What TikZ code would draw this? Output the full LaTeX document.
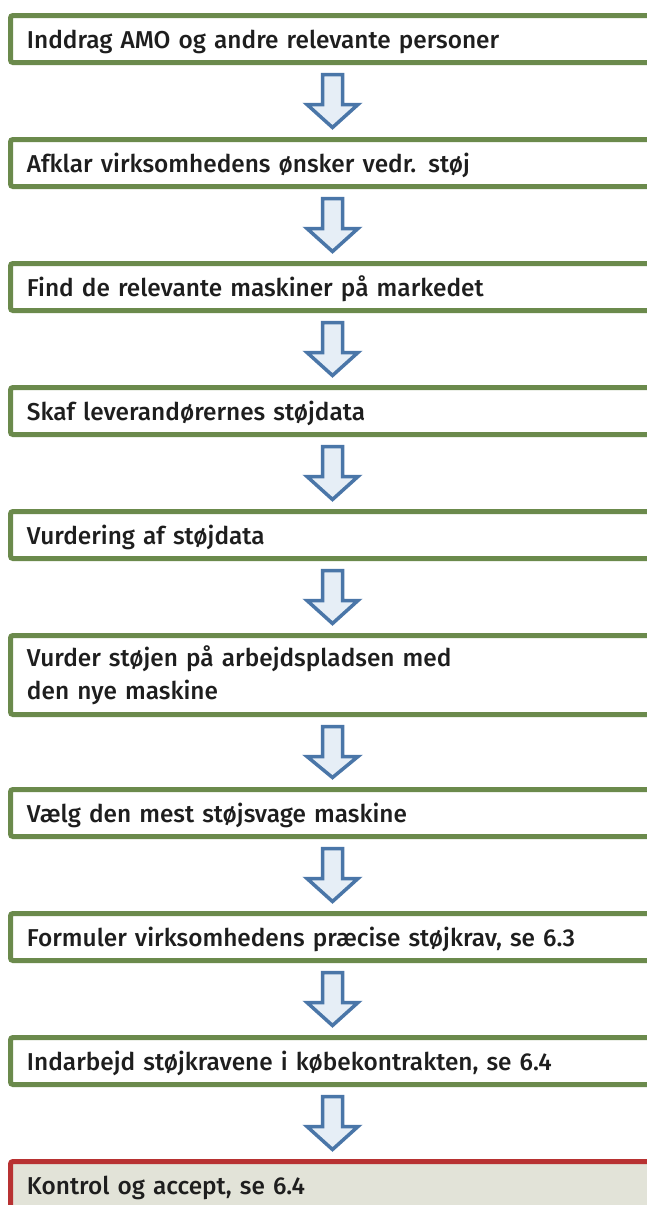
\documentclass[tikz,border=0pt]{standalone}
\usepackage{fontspec}
\setmainfont{Fira Sans}[UprightFont=* Medium]
\usetikzlibrary{calc}
\definecolor{gborder}{RGB}{107,138,76}
\definecolor{rborder}{RGB}{184,50,50}
\definecolor{afill}{RGB}{230,238,246}
\definecolor{aline}{RGB}{74,118,168}
\definecolor{kfill}{RGB}{226,227,216}
\definecolor{txt}{RGB}{30,30,30}
\tikzset{
  box/.style={draw=gborder, fill=white, line width=5pt, rounded corners=2.5pt,
    anchor=north west, minimum width=700pt, text width=667pt, inner xsep=16.5pt,
    inner ysep=0pt, outer sep=0pt, align=left, text=txt,
    font=\fontsize{24.4}{33}\selectfont},
  onebox/.style={box, minimum height=47pt, text height=19pt, text depth=1pt},
  twobox/.style={box, minimum height=79pt},
  endbox/.style={onebox, draw=rborder, fill=kfill},
  barrow/.style={draw=aline, fill=afill, line width=3.5pt, line join=miter},
}
\newcommand\blockarrow[2]{%
  \draw[barrow] let \p1=(#1.south), \p2=(#2.north) in
    ({322.5pt},{\y1-12pt}) -- ({342.5pt},{\y1-12pt}) -- ({342.5pt},{\y1-42pt})
    -- ({358pt},{\y1-42pt}) -- ({332.5pt},{\y2+12pt}) -- ({307pt},{\y1-42pt})
    -- ({322.5pt},{\y1-42pt}) -- cycle;}
\begin{document}
\begin{tikzpicture}[x=1pt,y=-1pt]
\useasboundingbox (0,0) rectangle (647,1205);
\clip (0,0) rectangle (647,1205);
\fill[white] (0,0) rectangle (647,1205);
\node[onebox] (b1) at (10.5,15.5) {Inddrag AMO og andre relevante personer};
\node[onebox] (b2) at (10.5,139.5) {Afklar virksomhedens ønsker vedr. støj};
\node[onebox] (b3) at (10.5,263.5) {Find de relevante maskiner på markedet};
\node[onebox] (b4) at (10.5,387.5) {Skaf leverandørernes støjdata};
\node[onebox] (b5) at (10.5,511.5) {Vurdering af støjdata};
\node[twobox] (b6) at (10.5,635.5) {Vurder støjen på arbejdspladsen med\\den nye maskine};
\node[onebox] (b7) at (10.5,789.5) {Vælg den mest støjsvage maskine};
\node[onebox] (b8) at (10.5,913.5) {Formuler virksomhedens præcise støjkrav, se 6.3};
\node[onebox] (b9) at (10.5,1037.5) {Indarbejd støjkravene i købekontrakten, se 6.4};
\node[endbox] (b10) at (10.5,1161.5) {Kontrol og accept, se 6.4};
\blockarrow{b1}{b2}
\blockarrow{b2}{b3}
\blockarrow{b3}{b4}
\blockarrow{b4}{b5}
\blockarrow{b5}{b6}
\blockarrow{b6}{b7}
\blockarrow{b7}{b8}
\blockarrow{b8}{b9}
\blockarrow{b9}{b10}
\end{tikzpicture}
\end{document}
